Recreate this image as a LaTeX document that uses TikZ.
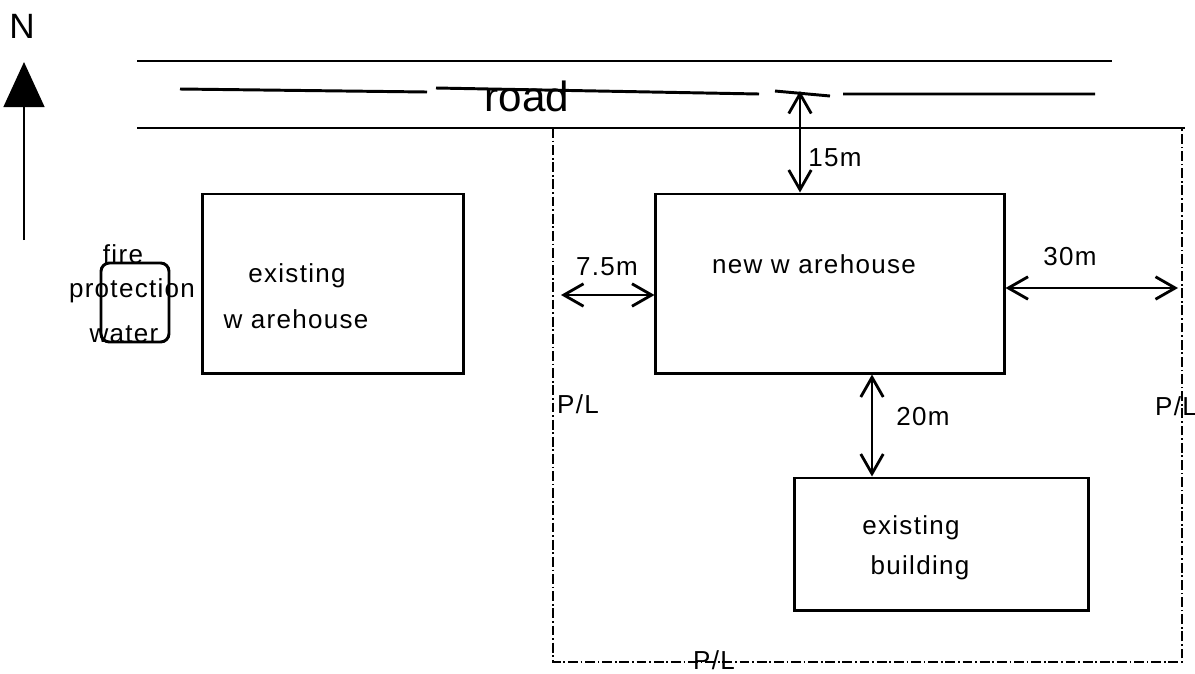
\documentclass[tikz,border=0pt]{standalone}
\usepackage{fontspec}
\setmainfont{Liberation Sans}
\newfontfamily\spcd[LetterSpace=5]{Liberation Sans}
\usetikzlibrary{arrows.meta,positioning}
\tikzset{bx/.style={draw,line width=2.1pt,inner sep=0pt}}
\tikzset{lbl/.style={anchor=base,inner sep=0pt,font=\spcd\fontsize{18.5}{22}\selectfont}}
\tikzset{dim/.style={line width=2pt,{Straight Barb[length=14pt,width=16pt]}-{Straight Barb[length=14pt,width=16pt]}}}
\tikzset{pl/.style={line width=1pt,dash pattern=on 7pt off 2pt on 1.2pt off 2pt}}

\begin{document}
\begin{tikzpicture}[x=0.025cm,y=-0.025cm]
\useasboundingbox (0,0) rectangle (1195,673);
\tikzstyle{rdline}=[line width=2.1pt]
\tikzstyle{big}=[anchor=base,inner sep=0pt]
% north arrow
\node[big,font=\fontsize{25}{30}\selectfont] (north) at (22,38) {N};
\coordinate (nfoot) at (24,240);
\coordinate (ntip) at (24,62);
\draw[line width=1.5pt,-{Triangle[length=32pt,width=29pt]}] (nfoot) -- (ntip);
% road
\coordinate (rdtl) at (137,61);
\coordinate (rdtr) at (1112,61);
\coordinate (rdbl) at (137,128);
\coordinate (rdbr) at (1185,128);
\draw[rdline] (rdtl) -- (rdtr);
\draw[rdline] (rdbl) -- (rdbr);
\draw[rdline] (180,89) -- (427,92) (436,88) -- (759,94) (775,91) -- (830,96) (843,94) -- (1095,94);
\node[big,font=\fontsize{30}{36}\selectfont] (road) at (527,111) {road};
% property line
\coordinate (pltl) at (553,128);
\coordinate (plbl) at (553,662);
\coordinate (plbr) at (1182,662);
\coordinate (pltr) at (1182,128);
\draw[pl] (pltl) -- (plbl) -- (plbr) -- (pltr);
\node[lbl] (plw) at (578,413) {P/L};
\node[lbl] (ple) at (1176,415) {P/L};
\node[lbl] (pls) at (714,669) {P/L};
% buildings
\node[bx,minimum width=6.5cm,minimum height=4.475cm] (oldwh) at (333,283.5) {};
\node[bx,minimum width=8.7cm,minimum height=4.475cm] (newwh) at (830,283.5) {};
\node[bx,minimum width=7.325cm,minimum height=3.3cm] (oldbld) at (941.5,544) {};
\node[bx,rounded corners=6pt,minimum width=1.7cm,minimum height=1.975cm] (tank) at (135,302.5) {};
\node[lbl] (tk1) at (123,263) {fire};
\node[lbl] (tk2) at (132,297) {protection};
\node[lbl] (tk3) at (124,342) {water};
\node[lbl] (ow1) at (297,282) {existing};
\node[lbl] (ow2) at (296,328) {w arehouse};
\node[lbl] (nw1) at (814,273) {new w arehouse};
\node[lbl] (ob1) at (911,534) {existing};
\node[lbl] (ob2) at (920,574) {building};
% distances
\coordinate (rdmid) at (800,91);
\coordinate (m75) at (561,295);
\coordinate (m30) at (1178,288);
\coordinate (m20) at (872,420);
\draw[dim] (rdmid) -- (rdmid |- newwh.north);
\draw[dim] (m75) -- (m75 -| newwh.west);
\draw[dim] (newwh.east |- m30) -- (m30);
\draw[dim] (newwh.south -| m20) -- (oldbld.north -| m20);
\node[lbl] (d15) at (835,166) {15m};
\node[lbl] (d75) at (607,275) {7.5m};
\node[lbl] (d30) at (1070,265) {30m};
\node[lbl] (d20) at (923,425) {20m};
\end{tikzpicture}
\end{document}
